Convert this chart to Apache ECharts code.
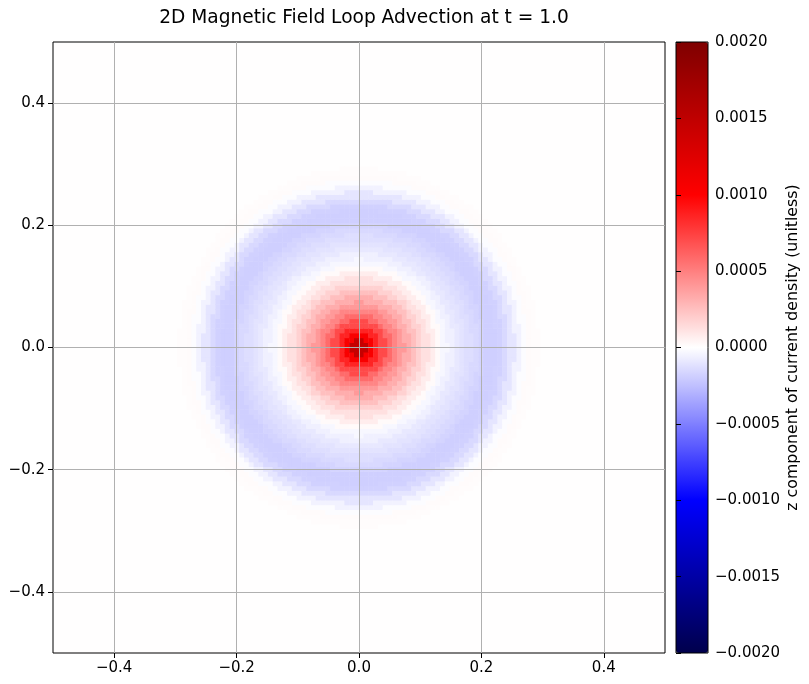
<!DOCTYPE html>
<html>
<head>
<meta charset="utf-8">
<script src="https://cdn.jsdelivr.net/npm/echarts@6/dist/echarts.min.js"></script>
<style>
  html, body { margin: 0; padding: 0; background: #fff; }
  #chart { width: 809px; height: 684px; }
</style>
</head>
<body>
<div id="chart"></div>
<script>
// 2D field loop advection, Jz at t = 1.0 (128 x 128 cells)

// ---- data ----
const gridSize = 128;
const domainMin = -0.5;
const domainMax = 0.5;
// radial profile of Jz, one value per 0.01 of radius (nearest bin)
const profileStep = 0.01;
const profileValues = [
  0.00188, 0.00145, 0.00105, 0.00086, 0.00071, 0.00058, 0.00048, 0.00040,
  0.00032, 0.00025, 0.00018, 0.00012, 0.00007, 0.00002, -0.00003, -0.00006,
  -0.00009, -0.00011, -0.00013, -0.00015, -0.00017, -0.00019, -0.00019, -0.00018,
  -0.00015, -0.00010, -0.00005, -0.00001, 0.000015, 0.00001, 0.000003
];
const backgroundValue = 0.000003;
const xTicks = [-0.4, -0.2, 0, 0.2, 0.4];
const yTicks = [-0.4, -0.2, 0, 0.2, 0.4];
const cbarMin = -0.002;
const cbarMax = 0.002;
const cbarStep = 0.0005;
const seismic = ['#00004c', '#0000ff', '#ffffff', '#ff0000', '#7f0000'];

// ---- build cells ----
const cellSize = (domainMax - domainMin) / gridSize;
const cellCenters = [];
for (let i = 0; i < gridSize; i++) cellCenters.push(domainMin + (i + 0.5) * cellSize);

const cells = [];
for (let i = 0; i < gridSize; i++) {
  for (let j = 0; j < gridSize; j++) {
    const r = Math.hypot(cellCenters[i], cellCenters[j]);
    const bin = Math.round(r / profileStep);
    const v = bin < profileValues.length ? profileValues[bin] : backgroundValue;
    cells.push([i, j, v]);
  }
}

const fmt = (v, d) => {
  const s = Math.abs(v).toFixed(d);
  return (v < -1e-12 ? '\u2212' : '') + s;
};

const FONT = 'DejaVu Sans';
const tickLabel = { color: '#000', fontFamily: FONT, fontSize: 15 };

const chart = echarts.init(document.getElementById('chart'), null, { renderer: 'canvas' });

chart.setOption({
  backgroundColor: '#fff',
  animation: false,
  title: {
    text: '2D Magnetic Field Loop Advection at t = 1.0',
    left: 359,
    top: 4,
    textAlign: 'center',
    textStyle: { fontFamily: FONT, fontSize: 18.6, fontWeight: 'normal', color: '#000' }
  },
  grid: [
    { left: 53, top: 42, width: 612, height: 611, show: true, z: 10,
      backgroundColor: 'transparent', borderColor: '#000', borderWidth: 1 },
    { left: 676, top: 42, width: 32, height: 611, show: true, z: 10,
      backgroundColor: 'transparent', borderColor: '#000', borderWidth: 1 }
  ],
  xAxis: [
    { type: 'category', gridIndex: 0, position: 'top', data: cellCenters, show: false },
    {
      type: 'value', gridIndex: 0, position: 'bottom', min: domainMin, max: domainMax, z: 10,
      axisLine: { show: false },
      axisTick: { show: true, length: 5, lineStyle: { color: '#000' }, customValues: xTicks },
      axisLabel: { ...tickLabel, margin: 8, customValues: xTicks, formatter: v => fmt(v, 1) },
      splitLine: { show: true, lineStyle: { color: '#b0b0b0', width: 1 } }
    },
    { type: 'value', gridIndex: 1, min: 0, max: 1, show: false }
  ],
  yAxis: [
    { type: 'category', gridIndex: 0, position: 'right', data: cellCenters, show: false },
    {
      type: 'value', gridIndex: 0, position: 'left', min: domainMin, max: domainMax, z: 10,
      axisLine: { show: false },
      axisTick: { show: true, length: 5, lineStyle: { color: '#000' }, customValues: yTicks },
      axisLabel: { ...tickLabel, margin: 8, customValues: yTicks, formatter: v => fmt(v, 1) },
      splitLine: { show: true, lineStyle: { color: '#b0b0b0', width: 1 } }
    },
    {
      type: 'value', gridIndex: 1, position: 'right', min: cbarMin, max: cbarMax, interval: cbarStep, z: 10,
      axisLine: { show: false },
      axisTick: { show: true, length: 5, lineStyle: { color: '#000' } },
      axisLabel: { ...tickLabel, margin: 7, formatter: v => fmt(v, 4) },
      splitLine: { show: false },
      name: 'z component of current density (unitless)',
      nameLocation: 'middle',
      nameRotate: 90,
      nameGap: 77,
      nameTextStyle: { fontFamily: FONT, fontSize: 15.8, color: '#000' }
    }
  ],
  visualMap: {
    type: 'continuous',
    seriesIndex: 0,
    min: cbarMin,
    max: cbarMax,
    left: 676,
    top: 42,
    itemWidth: 32,
    itemHeight: 611,
    padding: 0,
    text: null,
    showLabel: false,
    calculable: false,
    hoverLink: false,
    inRange: { color: seismic }
  },
  series: [{
    type: 'heatmap',
    xAxisIndex: 0,
    yAxisIndex: 0,
    data: cells,
    progressive: 0,
    emphasis: { disabled: true }
  }]
});
</script>
</body>
</html>
